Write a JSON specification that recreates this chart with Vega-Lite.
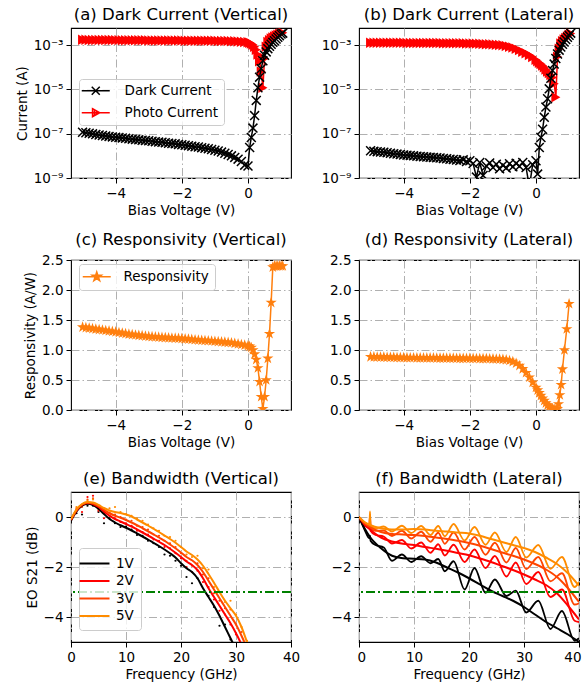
{
"$schema": "https://vega.github.io/schema/vega-lite/v6.json",
"padding": {"left": 14, "top": 5, "right": 0, "bottom": 5},
"background": "white",
"config": {
  "font": "DejaVu Sans",
  "view": {"stroke": "#000000", "strokeWidth": 1.1},
  "axis": {"domain": false, "grid": true, "gridColor": "#b0b0b0", "gridDash": [8,3,1.5,3], "gridWidth": 1, "tickColor": "#000000", "tickSize": 5, "tickWidth": 1, "labelFont": "DejaVu Sans", "labelFontSize": 13.5, "labelColor": "#000000", "labelPadding": 3, "titleFont": "DejaVu Sans", "titleFontSize": 13.5, "titleFontWeight": "normal", "titleColor": "#000000", "titlePadding": 4, "labelFlush": false, "labelOverlap": false},
  "title": {"font": "DejaVu Sans", "fontSize": 16.5, "fontWeight": "normal", "color": "#000000", "offset": 5, "anchor": "middle"},
  "legend": {"labelFont": "DejaVu Sans", "labelFontSize": 13.5, "labelColor": "#000000"}
},
"datasets": {
  "iv_a": [
    {"V":-5.0,"Dark Current":1.17e-7,"Photo Current":1.75e-3},
    {"V":-4.9,"Dark Current":1.11e-7,"Photo Current":1.75e-3},
    {"V":-4.8,"Dark Current":1.05e-7,"Photo Current":1.74e-3},
    {"V":-4.7,"Dark Current":9.9e-8,"Photo Current":1.74e-3},
    {"V":-4.6,"Dark Current":9.3e-8,"Photo Current":1.73e-3},
    {"V":-4.5,"Dark Current":8.8e-8,"Photo Current":1.73e-3},
    {"V":-4.4,"Dark Current":8.3e-8,"Photo Current":1.72e-3},
    {"V":-4.3,"Dark Current":7.9e-8,"Photo Current":1.72e-3},
    {"V":-4.2,"Dark Current":7.6e-8,"Photo Current":1.71e-3},
    {"V":-4.1,"Dark Current":7.2e-8,"Photo Current":1.71e-3},
    {"V":-4.0,"Dark Current":6.9e-8,"Photo Current":1.70e-3},
    {"V":-3.9,"Dark Current":6.7e-8,"Photo Current":1.70e-3},
    {"V":-3.8,"Dark Current":6.5e-8,"Photo Current":1.69e-3},
    {"V":-3.7,"Dark Current":6.2e-8,"Photo Current":1.69e-3},
    {"V":-3.6,"Dark Current":5.9e-8,"Photo Current":1.68e-3},
    {"V":-3.5,"Dark Current":5.7e-8,"Photo Current":1.68e-3},
    {"V":-3.4,"Dark Current":5.5e-8,"Photo Current":1.67e-3},
    {"V":-3.3,"Dark Current":5.3e-8,"Photo Current":1.67e-3},
    {"V":-3.2,"Dark Current":5.1e-8,"Photo Current":1.66e-3},
    {"V":-3.1,"Dark Current":4.95e-8,"Photo Current":1.66e-3},
    {"V":-3.0,"Dark Current":4.8e-8,"Photo Current":1.65e-3},
    {"V":-2.9,"Dark Current":4.6e-8,"Photo Current":1.65e-3},
    {"V":-2.8,"Dark Current":4.4e-8,"Photo Current":1.64e-3},
    {"V":-2.7,"Dark Current":4.2e-8,"Photo Current":1.64e-3},
    {"V":-2.6,"Dark Current":4.1e-8,"Photo Current":1.64e-3},
    {"V":-2.5,"Dark Current":3.9e-8,"Photo Current":1.63e-3},
    {"V":-2.4,"Dark Current":3.7e-8,"Photo Current":1.63e-3},
    {"V":-2.3,"Dark Current":3.6e-8,"Photo Current":1.63e-3},
    {"V":-2.2,"Dark Current":3.5e-8,"Photo Current":1.62e-3},
    {"V":-2.1,"Dark Current":3.3e-8,"Photo Current":1.62e-3},
    {"V":-2.0,"Dark Current":3.16e-8,"Photo Current":1.62e-3},
    {"V":-1.9,"Dark Current":3.0e-8,"Photo Current":1.61e-3},
    {"V":-1.8,"Dark Current":2.9e-8,"Photo Current":1.61e-3},
    {"V":-1.7,"Dark Current":2.75e-8,"Photo Current":1.61e-3},
    {"V":-1.6,"Dark Current":2.6e-8,"Photo Current":1.60e-3},
    {"V":-1.5,"Dark Current":2.5e-8,"Photo Current":1.60e-3},
    {"V":-1.4,"Dark Current":2.35e-8,"Photo Current":1.60e-3},
    {"V":-1.3,"Dark Current":2.2e-8,"Photo Current":1.59e-3},
    {"V":-1.2,"Dark Current":2.1e-8,"Photo Current":1.59e-3},
    {"V":-1.1,"Dark Current":1.95e-8,"Photo Current":1.58e-3},
    {"V":-1.0,"Dark Current":1.8e-8,"Photo Current":1.58e-3},
    {"V":-0.9,"Dark Current":1.66e-8,"Photo Current":1.57e-3},
    {"V":-0.8,"Dark Current":1.48e-8,"Photo Current":1.56e-3},
    {"V":-0.7,"Dark Current":1.32e-8,"Photo Current":1.55e-3},
    {"V":-0.6,"Dark Current":1.15e-8,"Photo Current":1.54e-3},
    {"V":-0.5,"Dark Current":1.0e-8,"Photo Current":1.52e-3},
    {"V":-0.4,"Dark Current":8.5e-9,"Photo Current":1.50e-3},
    {"V":-0.3,"Dark Current":7.1e-9,"Photo Current":1.47e-3},
    {"V":-0.2,"Dark Current":5.6e-9,"Photo Current":1.44e-3},
    {"V":-0.1,"Dark Current":3.8e-9,"Photo Current":1.40e-3},
    {"V":0.0,"Dark Current":3.5e-9,"Photo Current":1.35e-3},
    {"V":0.05,"Dark Current":2.4e-8,"Photo Current":1.3e-3},
    {"V":0.1,"Dark Current":6.8e-8,"Photo Current":1.2e-3},
    {"V":0.15,"Dark Current":1.8e-7,"Photo Current":1.05e-3},
    {"V":0.2,"Dark Current":6.6e-7,"Photo Current":8.5e-4},
    {"V":0.25,"Dark Current":3.2e-6,"Photo Current":6.2e-4},
    {"V":0.3,"Dark Current":1.2e-5,"Photo Current":3.8e-4},
    {"V":0.35,"Dark Current":3.6e-5,"Photo Current":1.9e-4},
    {"V":0.4,"Dark Current":8.7e-5,"Photo Current":6.5e-5},
    {"V":0.45,"Dark Current":2.0e-4,"Photo Current":1.2e-5},
    {"V":0.5,"Dark Current":3.5e-4,"Photo Current":2.5e-4},
    {"V":0.55,"Dark Current":5.0e-4,"Photo Current":8.5e-4},
    {"V":0.6,"Dark Current":7.0e-4,"Photo Current":1.4e-3},
    {"V":0.65,"Dark Current":9.0e-4,"Photo Current":1.7e-3},
    {"V":0.7,"Dark Current":1.1e-3,"Photo Current":2.0e-3},
    {"V":0.75,"Dark Current":1.35e-3,"Photo Current":2.25e-3},
    {"V":0.8,"Dark Current":1.6e-3,"Photo Current":2.5e-3},
    {"V":0.85,"Dark Current":1.9e-3,"Photo Current":2.75e-3},
    {"V":0.9,"Dark Current":2.3e-3,"Photo Current":3.0e-3},
    {"V":0.95,"Dark Current":2.7e-3,"Photo Current":3.2e-3},
    {"V":1.0,"Dark Current":3.2e-3,"Photo Current":3.4e-3},
    {"V":1.05,"Dark Current":3.5e-3,"Photo Current":3.7e-3}
  ],
  "iv_b": [
    {"V":-5.0,"Dark Current":1.7e-8,"Photo Current":1.30e-3},
    {"V":-4.9,"Dark Current":1.6e-8,"Photo Current":1.30e-3},
    {"V":-4.8,"Dark Current":1.55e-8,"Photo Current":1.30e-3},
    {"V":-4.7,"Dark Current":1.5e-8,"Photo Current":1.29e-3},
    {"V":-4.6,"Dark Current":1.45e-8,"Photo Current":1.29e-3},
    {"V":-4.5,"Dark Current":1.4e-8,"Photo Current":1.29e-3},
    {"V":-4.4,"Dark Current":1.32e-8,"Photo Current":1.29e-3},
    {"V":-4.3,"Dark Current":1.25e-8,"Photo Current":1.28e-3},
    {"V":-4.2,"Dark Current":1.2e-8,"Photo Current":1.28e-3},
    {"V":-4.1,"Dark Current":1.15e-8,"Photo Current":1.28e-3},
    {"V":-4.0,"Dark Current":1.1e-8,"Photo Current":1.28e-3},
    {"V":-3.9,"Dark Current":1.08e-8,"Photo Current":1.27e-3},
    {"V":-3.8,"Dark Current":1.05e-8,"Photo Current":1.27e-3},
    {"V":-3.7,"Dark Current":1.0e-8,"Photo Current":1.27e-3},
    {"V":-3.6,"Dark Current":9.7e-9,"Photo Current":1.27e-3},
    {"V":-3.5,"Dark Current":9.4e-9,"Photo Current":1.26e-3},
    {"V":-3.4,"Dark Current":9.1e-9,"Photo Current":1.26e-3},
    {"V":-3.3,"Dark Current":8.8e-9,"Photo Current":1.26e-3},
    {"V":-3.2,"Dark Current":8.6e-9,"Photo Current":1.26e-3},
    {"V":-3.1,"Dark Current":8.4e-9,"Photo Current":1.25e-3},
    {"V":-3.0,"Dark Current":8.2e-9,"Photo Current":1.25e-3},
    {"V":-2.9,"Dark Current":8.0e-9,"Photo Current":1.25e-3},
    {"V":-2.8,"Dark Current":7.6e-9,"Photo Current":1.24e-3},
    {"V":-2.7,"Dark Current":7.4e-9,"Photo Current":1.24e-3},
    {"V":-2.6,"Dark Current":7.0e-9,"Photo Current":1.24e-3},
    {"V":-2.5,"Dark Current":6.9e-9,"Photo Current":1.23e-3},
    {"V":-2.4,"Dark Current":6.5e-9,"Photo Current":1.23e-3},
    {"V":-2.3,"Dark Current":6.2e-9,"Photo Current":1.22e-3},
    {"V":-2.2,"Dark Current":6.6e-9,"Photo Current":1.22e-3},
    {"V":-2.1,"Dark Current":5.6e-9,"Photo Current":1.21e-3},
    {"V":-2.0,"Dark Current":6.0e-9,"Photo Current":1.20e-3},
    {"V":-1.9,"Dark Current":4.5e-9,"Photo Current":1.19e-3},
    {"V":-1.8,"Dark Current":1.1e-9,"Photo Current":1.18e-3},
    {"V":-1.7,"Dark Current":5.0e-9,"Photo Current":1.16e-3},
    {"V":-1.6,"Dark Current":1.3e-9,"Photo Current":1.14e-3},
    {"V":-1.5,"Dark Current":3.5e-9,"Photo Current":1.12e-3},
    {"V":-1.4,"Dark Current":4.8e-9,"Photo Current":1.10e-3},
    {"V":-1.3,"Dark Current":3.0e-9,"Photo Current":1.08e-3},
    {"V":-1.2,"Dark Current":4.2e-9,"Photo Current":1.05e-3},
    {"V":-1.1,"Dark Current":2.6e-9,"Photo Current":1.02e-3},
    {"V":-1.0,"Dark Current":3.8e-9,"Photo Current":9.9e-4},
    {"V":-0.9,"Dark Current":2.8e-9,"Photo Current":9.3e-4},
    {"V":-0.8,"Dark Current":4.4e-9,"Photo Current":8.6e-4},
    {"V":-0.7,"Dark Current":3.2e-9,"Photo Current":7.8e-4},
    {"V":-0.6,"Dark Current":4.6e-9,"Photo Current":6.9e-4},
    {"V":-0.5,"Dark Current":3.4e-9,"Photo Current":6.0e-4},
    {"V":-0.4,"Dark Current":5.0e-9,"Photo Current":5.1e-4},
    {"V":-0.3,"Dark Current":3.0e-9,"Photo Current":4.3e-4},
    {"V":-0.2,"Dark Current":4.0e-10,"Photo Current":3.6e-4},
    {"V":-0.1,"Dark Current":4.0e-9,"Photo Current":2.9e-4},
    {"V":0.0,"Dark Current":6.0e-9,"Photo Current":2.2e-4},
    {"V":0.05,"Dark Current":1.5e-9,"Photo Current":1.9e-4},
    {"V":0.1,"Dark Current":2.4e-8,"Photo Current":1.6e-4},
    {"V":0.15,"Dark Current":6.8e-8,"Photo Current":1.4e-4},
    {"V":0.2,"Dark Current":1.6e-7,"Photo Current":1.2e-4},
    {"V":0.25,"Dark Current":5.5e-7,"Photo Current":1.0e-4},
    {"V":0.3,"Dark Current":1.6e-6,"Photo Current":8.0e-5},
    {"V":0.35,"Dark Current":3.8e-6,"Photo Current":6.5e-5},
    {"V":0.4,"Dark Current":1.07e-5,"Photo Current":5.5e-5},
    {"V":0.45,"Dark Current":3.2e-5,"Photo Current":4.5e-5},
    {"V":0.5,"Dark Current":7.2e-5,"Photo Current":3.5e-5},
    {"V":0.55,"Dark Current":1.4e-4,"Photo Current":1.8e-5},
    {"V":0.6,"Dark Current":2.5e-4,"Photo Current":4.5e-6},
    {"V":0.65,"Dark Current":4.0e-4,"Photo Current":3.0e-4},
    {"V":0.7,"Dark Current":6.0e-4,"Photo Current":7.0e-4},
    {"V":0.75,"Dark Current":8.3e-4,"Photo Current":1.2e-3},
    {"V":0.8,"Dark Current":1.1e-3,"Photo Current":1.5e-3},
    {"V":0.85,"Dark Current":1.4e-3,"Photo Current":1.8e-3},
    {"V":0.9,"Dark Current":1.8e-3,"Photo Current":2.1e-3},
    {"V":0.95,"Dark Current":2.3e-3,"Photo Current":2.5e-3},
    {"V":1.0,"Dark Current":2.8e-3,"Photo Current":3.0e-3},
    {"V":1.05,"Dark Current":3.5e-3,"Photo Current":3.4e-3}
  ],
  "resp_c": [
    {"V":-5.0,"R":1.38},{"V":-4.9,"R":1.372},{"V":-4.8,"R":1.364},{"V":-4.7,"R":1.356},{"V":-4.6,"R":1.348},
    {"V":-4.5,"R":1.34},{"V":-4.4,"R":1.332},{"V":-4.3,"R":1.324},{"V":-4.2,"R":1.316},{"V":-4.1,"R":1.308},
    {"V":-4.0,"R":1.30},{"V":-3.9,"R":1.29},{"V":-3.8,"R":1.281},{"V":-3.7,"R":1.272},{"V":-3.6,"R":1.263},
    {"V":-3.5,"R":1.255},{"V":-3.4,"R":1.249},{"V":-3.3,"R":1.243},{"V":-3.2,"R":1.237},{"V":-3.1,"R":1.231},
    {"V":-3.0,"R":1.225},{"V":-2.9,"R":1.221},{"V":-2.8,"R":1.217},{"V":-2.7,"R":1.213},{"V":-2.6,"R":1.209},
    {"V":-2.5,"R":1.205},{"V":-2.4,"R":1.202},{"V":-2.3,"R":1.199},{"V":-2.2,"R":1.196},{"V":-2.1,"R":1.193},
    {"V":-2.0,"R":1.19},{"V":-1.9,"R":1.185},{"V":-1.8,"R":1.18},{"V":-1.7,"R":1.175},{"V":-1.6,"R":1.17},
    {"V":-1.5,"R":1.165},{"V":-1.4,"R":1.161},{"V":-1.3,"R":1.157},{"V":-1.2,"R":1.153},{"V":-1.1,"R":1.149},
    {"V":-1.0,"R":1.145},{"V":-0.9,"R":1.14},{"V":-0.8,"R":1.135},{"V":-0.7,"R":1.13},{"V":-0.6,"R":1.125},
    {"V":-0.5,"R":1.12},{"V":-0.4,"R":1.11},{"V":-0.3,"R":1.10},{"V":-0.2,"R":1.09},{"V":-0.1,"R":1.08},
    {"V":0.0,"R":1.07},{"V":0.05,"R":1.06},{"V":0.1,"R":1.04},{"V":0.15,"R":1.0},{"V":0.2,"R":0.93},
    {"V":0.25,"R":0.84},{"V":0.3,"R":0.7},{"V":0.35,"R":0.47},{"V":0.4,"R":0.22},{"V":0.45,"R":0.02},
    {"V":0.5,"R":0.22},{"V":0.55,"R":0.5},{"V":0.6,"R":0.86},{"V":0.65,"R":1.27},{"V":0.7,"R":1.79},
    {"V":0.75,"R":2.38},{"V":0.8,"R":2.4},{"V":0.85,"R":2.4},{"V":0.9,"R":2.4},{"V":0.95,"R":2.4},
    {"V":1.0,"R":2.4},{"V":1.05,"R":2.4}
  ],
  "resp_d": [
    {"V":-5.0,"R":0.885},{"V":-4.9,"R":0.884},{"V":-4.8,"R":0.882},{"V":-4.7,"R":0.881},{"V":-4.6,"R":0.880},
    {"V":-4.5,"R":0.878},{"V":-4.4,"R":0.877},{"V":-4.3,"R":0.876},{"V":-4.2,"R":0.874},{"V":-4.1,"R":0.873},
    {"V":-4.0,"R":0.872},{"V":-3.9,"R":0.871},{"V":-3.8,"R":0.870},{"V":-3.7,"R":0.870},{"V":-3.6,"R":0.869},
    {"V":-3.5,"R":0.868},{"V":-3.4,"R":0.867},{"V":-3.3,"R":0.867},{"V":-3.2,"R":0.866},{"V":-3.1,"R":0.866},
    {"V":-3.0,"R":0.865},{"V":-2.9,"R":0.864},{"V":-2.8,"R":0.864},{"V":-2.7,"R":0.863},{"V":-2.6,"R":0.863},
    {"V":-2.5,"R":0.862},{"V":-2.4,"R":0.861},{"V":-2.3,"R":0.860},{"V":-2.2,"R":0.860},{"V":-2.1,"R":0.859},
    {"V":-2.0,"R":0.858},{"V":-1.9,"R":0.858},{"V":-1.8,"R":0.857},{"V":-1.7,"R":0.856},{"V":-1.6,"R":0.856},
    {"V":-1.5,"R":0.855},{"V":-1.4,"R":0.853},{"V":-1.3,"R":0.851},{"V":-1.2,"R":0.849},{"V":-1.1,"R":0.847},
    {"V":-1.0,"R":0.843},{"V":-0.9,"R":0.836},{"V":-0.8,"R":0.824},{"V":-0.7,"R":0.806},{"V":-0.6,"R":0.778},
    {"V":-0.5,"R":0.74},{"V":-0.4,"R":0.685},{"V":-0.3,"R":0.62},{"V":-0.2,"R":0.545},{"V":-0.1,"R":0.46},
    {"V":0.0,"R":0.375},{"V":0.05,"R":0.33},{"V":0.1,"R":0.285},{"V":0.15,"R":0.24},{"V":0.2,"R":0.195},
    {"V":0.25,"R":0.155},{"V":0.3,"R":0.115},{"V":0.35,"R":0.08},{"V":0.4,"R":0.055},{"V":0.45,"R":0.035},
    {"V":0.5,"R":0.02},{"V":0.55,"R":0.01},{"V":0.6,"R":0.005},{"V":0.65,"R":0.02},{"V":0.68,"R":0.1},
    {"V":0.72,"R":0.25},{"V":0.76,"R":0.42},{"V":0.8,"R":0.68},{"V":0.86,"R":1.0},{"V":0.93,"R":1.35},
    {"V":1.0,"R":1.77}
  ],
  "bw_e": [
    {"f":0,"1V":-0.15,"2V":-0.12,"3V":-0.1,"5V":-0.08},
    {"f":1,"1V":0.22,"2V":0.25,"3V":0.28,"5V":0.3},
    {"f":2,"1V":0.45,"2V":0.48,"3V":0.5,"5V":0.52},
    {"f":3,"1V":0.53,"2V":0.56,"3V":0.58,"5V":0.6},
    {"f":4,"1V":0.48,"2V":0.52,"3V":0.55,"5V":0.58},
    {"f":5,"1V":0.33,"2V":0.4,"3V":0.44,"5V":0.48},
    {"f":6,"1V":0.12,"2V":0.22,"3V":0.29,"5V":0.36},
    {"f":7,"1V":-0.08,"2V":0.05,"3V":0.15,"5V":0.26},
    {"f":8,"1V":-0.22,"2V":-0.08,"3V":0.05,"5V":0.2},
    {"f":9,"1V":-0.33,"2V":-0.18,"3V":-0.03,"5V":0.16},
    {"f":10,"1V":-0.43,"2V":-0.28,"3V":-0.12,"5V":0.1},
    {"f":11,"1V":-0.54,"2V":-0.38,"3V":-0.22,"5V":0.02},
    {"f":12,"1V":-0.66,"2V":-0.5,"3V":-0.33,"5V":-0.1},
    {"f":13,"1V":-0.78,"2V":-0.62,"3V":-0.45,"5V":-0.22},
    {"f":14,"1V":-0.9,"2V":-0.74,"3V":-0.57,"5V":-0.34},
    {"f":15,"1V":-1.03,"2V":-0.86,"3V":-0.69,"5V":-0.47},
    {"f":16,"1V":-1.16,"2V":-0.99,"3V":-0.82,"5V":-0.6},
    {"f":17,"1V":-1.3,"2V":-1.12,"3V":-0.95,"5V":-0.74},
    {"f":18,"1V":-1.45,"2V":-1.27,"3V":-1.1,"5V":-0.88},
    {"f":19,"1V":-1.62,"2V":-1.43,"3V":-1.25,"5V":-1.03},
    {"f":20,"1V":-1.85,"2V":-1.6,"3V":-1.42,"5V":-1.2},
    {"f":21,"1V":-2.05,"2V":-1.78,"3V":-1.6,"5V":-1.38},
    {"f":22,"1V":-2.2,"2V":-1.92,"3V":-1.73,"5V":-1.52},
    {"f":23,"1V":-2.45,"2V":-2.12,"3V":-1.92,"5V":-1.7},
    {"f":24,"1V":-2.85,"2V":-2.45,"3V":-2.2,"5V":-1.95},
    {"f":25,"1V":-3.2,"2V":-2.85,"3V":-2.55,"5V":-2.28},
    {"f":26,"1V":-3.55,"2V":-3.2,"3V":-2.9,"5V":-2.63},
    {"f":27,"1V":-3.95,"2V":-3.55,"3V":-3.25,"5V":-3.0},
    {"f":28,"1V":-4.4,"2V":-3.9,"3V":-3.6,"5V":-3.35},
    {"f":29,"1V":-4.85,"2V":-4.25,"3V":-3.95,"5V":-3.65},
    {"f":30,"1V":-5.3,"2V":-4.65,"3V":-4.3,"5V":-3.95},
    {"f":31,"1V":-5.8,"2V":-5.1,"3V":-4.75,"5V":-4.4},
    {"f":32,"1V":-6.3,"2V":-5.6,"3V":-5.25,"5V":-5.0},
    {"f":33,"1V":-6.8,"2V":-6.1,"3V":-5.8,"5V":-5.55}
  ],
  "dots_e": [
    {"f":1,"1V":0.15,"2V":0.3,"3V":0.35,"5V":0.4},
    {"f":2,"1V":0.1,"2V":0.2,"3V":0.4,"5V":0.45},
    {"f":3,"1V":0.45,"2V":0.8,"3V":0.7,"5V":0.65},
    {"f":4,"1V":0.45,"2V":0.85,"3V":0.75,"5V":0.7},
    {"f":5,"1V":0.2,"2V":0.25,"3V":0.3,"5V":0.4},
    {"f":6,"1V":-0.25,"2V":-0.05,"3V":0.15,"5V":0.3},
    {"f":7,"1V":-0.05,"2V":0.05,"3V":0.18,"5V":0.35},
    {"f":8,"1V":-0.25,"2V":-0.05,"3V":0.1,"5V":0.4},
    {"f":9,"1V":-0.4,"2V":-0.2,"3V":0.0,"5V":0.2},
    {"f":10,"1V":-0.38,"2V":-0.25,"3V":-0.1,"5V":0.12},
    {"f":11,"1V":-0.5,"2V":-0.35,"3V":-0.15,"5V":0.05},
    {"f":12,"1V":-0.72,"2V":-0.55,"3V":-0.35,"5V":-0.05},
    {"f":13,"1V":-0.75,"2V":-0.6,"3V":-0.4,"5V":-0.15},
    {"f":14,"1V":-0.95,"2V":-0.7,"3V":-0.5,"5V":-0.3},
    {"f":15,"1V":-1.05,"2V":-0.9,"3V":-0.7,"5V":-0.45},
    {"f":16,"1V":-1.2,"2V":-0.95,"3V":-0.75,"5V":-0.55},
    {"f":17,"1V":-1.5,"2V":-1.2,"3V":-0.95,"5V":-0.75},
    {"f":18,"1V":-1.55,"2V":-1.25,"3V":-1.05,"5V":-0.8},
    {"f":19,"1V":-1.75,"2V":-1.45,"3V":-1.2,"5V":-0.95},
    {"f":20,"1V":-1.95,"2V":-1.65,"3V":-1.45,"5V":-1.2},
    {"f":21,"1V":-2.4,"2V":-2.0,"3V":-1.75,"5V":-1.5},
    {"f":22,"1V":-2.65,"2V":-2.2,"3V":-1.95,"5V":-1.6},
    {"f":23,"1V":-2.45,"2V":-2.15,"3V":-1.85,"5V":-1.55},
    {"f":24,"1V":-3.0,"2V":-2.6,"3V":-2.3,"5V":-2.05},
    {"f":25,"1V":-3.15,"2V":-2.8,"3V":-2.45,"5V":-2.1},
    {"f":26,"1V":-3.6,"2V":-3.3,"3V":-3.05,"5V":-2.8},
    {"f":27,"1V":-4.35,"2V":-3.75,"3V":-3.35,"5V":-3.0},
    {"f":28,"1V":-4.3,"2V":-3.9,"3V":-3.65,"5V":-3.4},
    {"f":29,"1V":-4.9,"2V":-4.3,"3V":-3.7,"5V":-3.35},
    {"f":30,"1V":null,"2V":-4.7,"3V":-4.3,"5V":-3.9},
    {"f":31,"1V":null,"2V":null,"3V":-4.6,"5V":-4.4},
    {"f":32,"1V":null,"2V":null,"3V":null,"5V":-4.95}
  ],
  "smooth_f": [
    {"f":0,"1V":0.0,"2V":0.0,"3V":0.0,"5V":0.0},
    {"f":1,"1V":-0.45,"2V":-0.3,"3V":-0.25,"5V":-0.2},
    {"f":2,"1V":-0.8,"2V":-0.5,"3V":-0.4,"5V":-0.32},
    {"f":4,"1V":-1.25,"2V":-0.82,"3V":-0.6,"5V":-0.45},
    {"f":6,"1V":-1.55,"2V":-0.98,"3V":-0.68,"5V":-0.5},
    {"f":8,"1V":-1.65,"2V":-1.07,"3V":-0.7,"5V":-0.5},
    {"f":10,"1V":-1.67,"2V":-1.12,"3V":-0.72,"5V":-0.48},
    {"f":12,"1V":-1.7,"2V":-1.2,"3V":-0.76,"5V":-0.5},
    {"f":14,"1V":-1.82,"2V":-1.27,"3V":-0.82,"5V":-0.55},
    {"f":16,"1V":-2.02,"2V":-1.35,"3V":-0.88,"5V":-0.58},
    {"f":18,"1V":-2.22,"2V":-1.44,"3V":-0.95,"5V":-0.62},
    {"f":20,"1V":-2.45,"2V":-1.53,"3V":-1.04,"5V":-0.66},
    {"f":22,"1V":-2.7,"2V":-1.66,"3V":-1.15,"5V":-0.75},
    {"f":24,"1V":-2.95,"2V":-1.8,"3V":-1.28,"5V":-0.88},
    {"f":26,"1V":-3.15,"2V":-1.96,"3V":-1.42,"5V":-1.0},
    {"f":28,"1V":-3.35,"2V":-2.12,"3V":-1.55,"5V":-1.12},
    {"f":30,"1V":-3.6,"2V":-2.3,"3V":-1.7,"5V":-1.24},
    {"f":32,"1V":-3.9,"2V":-2.5,"3V":-1.88,"5V":-1.4},
    {"f":34,"1V":-4.2,"2V":-2.72,"3V":-2.1,"5V":-1.62},
    {"f":36,"1V":-4.45,"2V":-3.05,"3V":-2.4,"5V":-1.88},
    {"f":38,"1V":-4.7,"2V":-3.55,"3V":-2.85,"5V":-2.25},
    {"f":40,"1V":-5.0,"2V":-4.1,"3V":-3.4,"5V":-2.75}
  ],
  "raw_f": [
    {"f":0,"1V":0.0,"2V":0.0,"3V":0.0,"5V":0.0},
    {"f":1.0,"1V":-0.5,"2V":-0.35,"3V":-0.3,"5V":-0.22},
    {"f":1.9,"1V":-0.85,"2V":-0.4,"3V":-0.35,"5V":-0.3},
    {"f":2.0,"1V":-0.75,"2V":0.05,"3V":0.1,"5V":0.22},
    {"f":2.1,"1V":-0.95,"2V":-0.55,"3V":-0.45,"5V":-0.38},
    {"f":3.0,"1V":-1.12,"2V":-0.72,"3V":-0.55,"5V":-0.45},
    {"f":4.5,"1V":-1.22,"2V":-0.78,"3V":-0.54,"5V":-0.38},
    {"f":6.0,"1V":-1.75,"2V":-1.06,"3V":-0.76,"5V":-0.58},
    {"f":7.8,"1V":-1.5,"2V":-0.92,"3V":-0.55,"5V":-0.35},
    {"f":9.5,"1V":-1.8,"2V":-1.26,"3V":-0.86,"5V":-0.64},
    {"f":11.3,"1V":-1.57,"2V":-1.02,"3V":-0.59,"5V":-0.36},
    {"f":13.0,"1V":-1.85,"2V":-1.43,"3V":-0.99,"5V":-0.72},
    {"f":14.4,"1V":-1.68,"2V":-1.09,"3V":-0.63,"5V":-0.36},
    {"f":15.6,"1V":-2.17,"2V":-1.54,"3V":-1.07,"5V":-0.77},
    {"f":17.2,"1V":-1.77,"2V":-1.11,"3V":-0.62,"5V":-0.28},
    {"f":19.2,"1V":-2.9,"2V":-1.8,"3V":-1.3,"5V":-0.94},
    {"f":21.0,"1V":-2.04,"2V":-1.3,"3V":-0.8,"5V":-0.4},
    {"f":23.0,"1V":-3.03,"2V":-2.04,"3V":-1.51,"5V":-1.11},
    {"f":24.7,"1V":-2.5,"2V":-1.56,"3V":-1.03,"5V":-0.62},
    {"f":26.8,"1V":-3.16,"2V":-2.38,"3V":-1.82,"5V":-1.4},
    {"f":28.5,"1V":-2.95,"2V":-1.82,"3V":-1.24,"5V":-0.8},
    {"f":30.4,"1V":-3.82,"2V":-2.68,"3V":-2.08,"5V":-1.62},
    {"f":32.6,"1V":-3.35,"2V":-2.2,"3V":-1.6,"5V":-1.12},
    {"f":34.8,"1V":-4.48,"2V":-3.2,"3V":-2.57,"5V":-2.07},
    {"f":36.9,"1V":-3.76,"2V":-2.9,"3V":-2.25,"5V":-1.6},
    {"f":39.2,"1V":-4.95,"2V":-4.15,"3V":-3.5,"5V":-2.8},
    {"f":40.0,"1V":-4.85,"2V":-4.2,"3V":-3.45,"5V":-2.6}
  ]
},
"columns": 2,
"spacing": {"row": 82, "column": 68},
"bounds": "flush",
"resolve": {"scale": {"color": "independent", "shape": "independent"}, "legend": {"color": "independent", "shape": "independent"}},
"concat": [
    {
      "title": "(a) Dark Current (Vertical)",
      "width": 220, "height": 150,
      "data": {"name": "iv_a"},
      "transform": [{"fold": ["Photo Current", "Dark Current"], "as": ["s", "I"]}],
      "encoding": {
        "x": {"field": "V", "type": "quantitative", "scale": {"domain": [-5.35, 1.3], "nice": false, "zero": false}, "axis": {"values": [-4, -2, 0], "title": "Bias Voltage (V)"}},
        "y": {"field": "I", "type": "quantitative", "scale": {"type": "log", "domain": [1e-9, 6e-3], "nice": false}, "axis": {"values": [1e-9, 1e-7, 1e-5, 1e-3], "labelExpr": "datum.value < 1e-8 ? '10⁻⁹' : datum.value < 1e-6 ? '10⁻⁷' : datum.value < 1e-4 ? '10⁻⁵' : '10⁻³'", "title": "Current (A)"}}
      },
      "layer": [
        {"transform": [{"filter": "datum.s == 'Photo Current'"}], "mark": {"type": "line", "color": "#ff0000", "strokeWidth": 1.5, "clip": true}},
        {"transform": [{"filter": "datum.s == 'Photo Current'"}], "mark": {"type": "point", "shape": "triangle-right", "filled": true, "size": 110, "color": "#ff0000", "opacity": 1, "clip": true}},
        {"transform": [{"filter": "datum.s == 'Dark Current'"}], "mark": {"type": "line", "color": "#000000", "strokeWidth": 1.5, "clip": true}},
        {"transform": [{"filter": "datum.s == 'Dark Current'"}], "mark": {"type": "point", "shape": "M-1,-1L1,1M-1,1L1,-1", "filled": false, "size": 80, "color": "#000000", "strokeWidth": 1.5, "opacity": 1, "clip": true}},
        {"transform": [{"filter": "datum.V > 100"}], "mark": {"type": "point", "filled": false, "size": 64, "opacity": 0, "strokeWidth": 1.5},
         "encoding": {
           "color": {"field": "s", "type": "nominal", "scale": {"domain": ["Dark Current", "Photo Current"], "range": ["#000000", "#ff0000"]},
             "legend": {"orient": "none", "legendX": 8, "legendY": 51, "title": null, "symbolSize": 64, "symbolOffset": 5, "labelOffset": 22, "padding": 5, "rowPadding": 7, "fillColor": "rgba(255,255,255,0.8)", "strokeColor": "#cccccc", "cornerRadius": 3, "symbolStrokeWidth": 1.5, "symbolOpacity": 1}},
           "shape": {"field": "s", "type": "nominal", "scale": {"domain": ["Dark Current", "Photo Current"], "range": ["M-3.5,0L3.5,0M-1,-1L1,1M-1,1L1,-1", "M-3.5,0L3.5,0M-0.8,-1L1,0L-0.8,1ZM-0.35,-0.75L-0.35,0.75M0.1,-0.5L0.1,0.5M0.55,-0.25L0.55,0.25"]},
             "legend": {"orient": "none", "legendX": 8, "legendY": 51, "title": null, "symbolSize": 64, "symbolOffset": 5, "labelOffset": 22, "padding": 5, "rowPadding": 7, "fillColor": "rgba(255,255,255,0.8)", "strokeColor": "#cccccc", "cornerRadius": 3, "symbolStrokeWidth": 1.5, "symbolOpacity": 1}}}}
      ]
    },
    {
      "title": "(b) Dark Current (Lateral)",
      "width": 220, "height": 150,
      "data": {"name": "iv_b"},
      "transform": [{"fold": ["Photo Current", "Dark Current"], "as": ["s", "I"]}],
      "encoding": {
        "x": {"field": "V", "type": "quantitative", "scale": {"domain": [-5.35, 1.3], "nice": false, "zero": false}, "axis": {"values": [-4, -2, 0], "title": "Bias Voltage (V)"}},
        "y": {"field": "I", "type": "quantitative", "scale": {"type": "log", "domain": [1e-9, 6e-3], "nice": false}, "axis": {"values": [1e-9, 1e-7, 1e-5, 1e-3], "labelExpr": "datum.value < 1e-8 ? '10⁻⁹' : datum.value < 1e-6 ? '10⁻⁷' : datum.value < 1e-4 ? '10⁻⁵' : '10⁻³'", "title": null}}
      },
      "layer": [
        {"transform": [{"filter": "datum.s == 'Photo Current'"}], "mark": {"type": "line", "color": "#ff0000", "strokeWidth": 1.5, "clip": true}},
        {"transform": [{"filter": "datum.s == 'Photo Current'"}], "mark": {"type": "point", "shape": "triangle-right", "filled": true, "size": 110, "color": "#ff0000", "opacity": 1, "clip": true}},
        {"transform": [{"filter": "datum.s == 'Dark Current'"}], "mark": {"type": "line", "color": "#000000", "strokeWidth": 1.5, "clip": true}},
        {"transform": [{"filter": "datum.s == 'Dark Current'"}], "mark": {"type": "point", "shape": "M-1,-1L1,1M-1,1L1,-1", "filled": false, "size": 80, "color": "#000000", "strokeWidth": 1.5, "opacity": 1, "clip": true}}
      ]
    },
    {
      "title": "(c) Responsivity (Vertical)",
      "width": 220, "height": 150,
      "data": {"name": "resp_c"},
      "encoding": {
        "x": {"field": "V", "type": "quantitative", "scale": {"domain": [-5.35, 1.3], "nice": false, "zero": false}, "axis": {"values": [-4, -2, 0], "title": "Bias Voltage (V)"}},
        "y": {"field": "R", "type": "quantitative", "scale": {"domain": [0, 2.5], "nice": false}, "axis": {"values": [0, 0.5, 1, 1.5, 2, 2.5], "format": ".1f", "title": "Responsivity (A/W)"}}
      },
      "layer": [
        {"mark": {"type": "line", "color": "#ff7f0e", "strokeWidth": 1.5, "clip": true}},
        {"mark": {"type": "point", "shape": "M0,-1L0.225,-0.309L0.951,-0.309L0.363,0.118L0.588,0.809L0,0.382L-0.588,0.809L-0.363,0.118L-0.951,-0.309L-0.225,-0.309Z", "filled": true, "size": 140, "color": "#ff7f0e", "opacity": 1, "clip": true}},
        {"data": {"values": [{"s": "Responsivity"}]},
         "mark": {"type": "point", "filled": false, "size": 64, "opacity": 0, "strokeWidth": 1.5},
         "encoding": {
           "x": {"field": "V", "type": "quantitative"},
           "y": {"field": "R", "type": "quantitative"},
           "color": {"field": "s", "type": "nominal", "scale": {"domain": ["Responsivity"], "range": ["#ff7f0e"]},
             "legend": {"orient": "none", "legendX": 8, "legendY": 4, "title": null, "symbolSize": 64, "symbolOffset": 5, "labelOffset": 20, "padding": 6, "fillColor": "rgba(255,255,255,0.8)", "strokeColor": "#cccccc", "cornerRadius": 3, "symbolStrokeWidth": 1.5, "symbolOpacity": 1}},
           "shape": {"field": "s", "type": "nominal", "scale": {"domain": ["Responsivity"], "range": ["M-3.5,0L3.5,0M0,-1.2L0.27,-0.37L1.14,-0.37L0.44,0.14L0.71,0.97L0,0.46L-0.71,0.97L-0.44,0.14L-1.14,-0.37L-0.27,-0.37ZM0,-1.2L0,0.3M1.14,-0.37L-0.3,0.1M0.71,0.97L-0.2,-0.25M-0.71,0.97L0.2,-0.25M-1.14,-0.37L0.3,0.1"]},
             "legend": {"orient": "none", "legendX": 8, "legendY": 4, "title": null, "symbolSize": 64, "symbolOffset": 5, "labelOffset": 20, "padding": 6, "fillColor": "rgba(255,255,255,0.8)", "strokeColor": "#cccccc", "cornerRadius": 3, "symbolStrokeWidth": 1.5, "symbolOpacity": 1}}}}
      ]
    },
    {
      "title": "(d) Responsivity (Lateral)",
      "width": 220, "height": 150,
      "data": {"name": "resp_d"},
      "encoding": {
        "x": {"field": "V", "type": "quantitative", "scale": {"domain": [-5.35, 1.3], "nice": false, "zero": false}, "axis": {"values": [-4, -2, 0], "title": "Bias Voltage (V)"}},
        "y": {"field": "R", "type": "quantitative", "scale": {"domain": [0, 2.5], "nice": false}, "axis": {"values": [0, 0.5, 1, 1.5, 2, 2.5], "format": ".1f", "title": null}}
      },
      "layer": [
        {"mark": {"type": "line", "color": "#ff7f0e", "strokeWidth": 1.5, "clip": true}},
        {"mark": {"type": "point", "shape": "M0,-1L0.225,-0.309L0.951,-0.309L0.363,0.118L0.588,0.809L0,0.382L-0.588,0.809L-0.363,0.118L-0.951,-0.309L-0.225,-0.309Z", "filled": true, "size": 140, "color": "#ff7f0e", "opacity": 1, "clip": true}}
      ]
    },
    {
      "title": "(e) Bandwidth (Vertical)",
      "width": 220, "height": 150,
      "resolve": {"scale": {"color": "independent"}, "legend": {"color": "independent"}},
      "layer": [
        {"data": {"name": "dots_e"}, "transform": [{"fold": ["1V", "2V", "3V", "5V"], "as": ["s", "db"]}],
         "mark": {"type": "point", "filled": true, "size": 5, "opacity": 1, "clip": true},
         "encoding": {
           "x": {"field": "f", "type": "quantitative", "scale": {"domain": [0, 40], "nice": false}, "axis": {"values": [0, 10, 20, 30, 40], "title": "Frequency (GHz)"}},
           "y": {"field": "db", "type": "quantitative", "scale": {"domain": [-5, 1], "nice": false, "zero": false}, "axis": {"values": [-4, -2, 0], "title": "EO S21 (dB)"}},
           "color": {"field": "s", "type": "nominal", "scale": {"domain": ["1V", "2V", "3V", "5V"], "range": ["#000000", "#ff0000", "#ff4500", "#ff8c00"]}, "legend": null}}},
        {"data": {"name": "bw_e"}, "transform": [{"fold": ["1V", "2V", "3V", "5V"], "as": ["s", "db"]}],
         "mark": {"type": "line", "strokeWidth": 2, "interpolate": "monotone", "clip": true},
         "encoding": {
           "x": {"field": "f", "type": "quantitative"},
           "y": {"field": "db", "type": "quantitative"},
           "color": {"field": "s", "type": "nominal", "scale": {"domain": ["1V", "2V", "3V", "5V"], "range": ["#000000", "#ff0000", "#ff4500", "#ff8c00"]},
             "legend": {"orient": "none", "legendX": 8, "legendY": 56, "title": null, "symbolType": "M-2,0L2,0", "symbolSize": 225, "symbolStrokeWidth": 2, "symbolOffset": 0, "labelOffset": 13, "padding": 7, "rowPadding": 2.5, "fillColor": "rgba(255,255,255,0.8)", "strokeColor": "#cccccc", "cornerRadius": 3}}}},
        {"data": {"values": [{"level": -3}]},
         "mark": {"type": "rule", "color": "#008000", "strokeWidth": 1.8, "strokeDash": [9, 3, 2, 3]},
         "encoding": {"y": {"field": "level", "type": "quantitative"}}}
      ]
    },
    {
      "title": "(f) Bandwidth (Lateral)",
      "width": 220, "height": 150,
      "layer": [
        {"data": {"name": "raw_f"}, "transform": [{"fold": ["1V", "2V", "3V", "5V"], "as": ["s", "db"]}],
         "mark": {"type": "line", "strokeWidth": 1.8, "interpolate": "monotone", "clip": true},
         "encoding": {
           "x": {"field": "f", "type": "quantitative", "scale": {"domain": [0, 40], "nice": false}, "axis": {"values": [0, 10, 20, 30, 40], "title": "Frequency (GHz)", "labelFlush": true, "labelFlushOffset": 2}},
           "y": {"field": "db", "type": "quantitative", "scale": {"domain": [-5, 1], "nice": false, "zero": false}, "axis": {"values": [-4, -2, 0], "title": null}},
           "color": {"field": "s", "type": "nominal", "scale": {"domain": ["1V", "2V", "3V", "5V"], "range": ["#000000", "#ff0000", "#ff4500", "#ff8c00"]}, "legend": null}}},
        {"data": {"name": "smooth_f"}, "transform": [{"fold": ["1V", "2V", "3V", "5V"], "as": ["s", "db"]}],
         "mark": {"type": "line", "strokeWidth": 2, "interpolate": "monotone", "clip": true},
         "encoding": {
           "x": {"field": "f", "type": "quantitative"},
           "y": {"field": "db", "type": "quantitative"},
           "color": {"field": "s", "type": "nominal", "legend": null}}},
        {"data": {"values": [{"level": -3}]},
         "mark": {"type": "rule", "color": "#008000", "strokeWidth": 1.8, "strokeDash": [9, 3, 2, 3]},
         "encoding": {"y": {"field": "level", "type": "quantitative"}}}
      ]
    }
]
}
